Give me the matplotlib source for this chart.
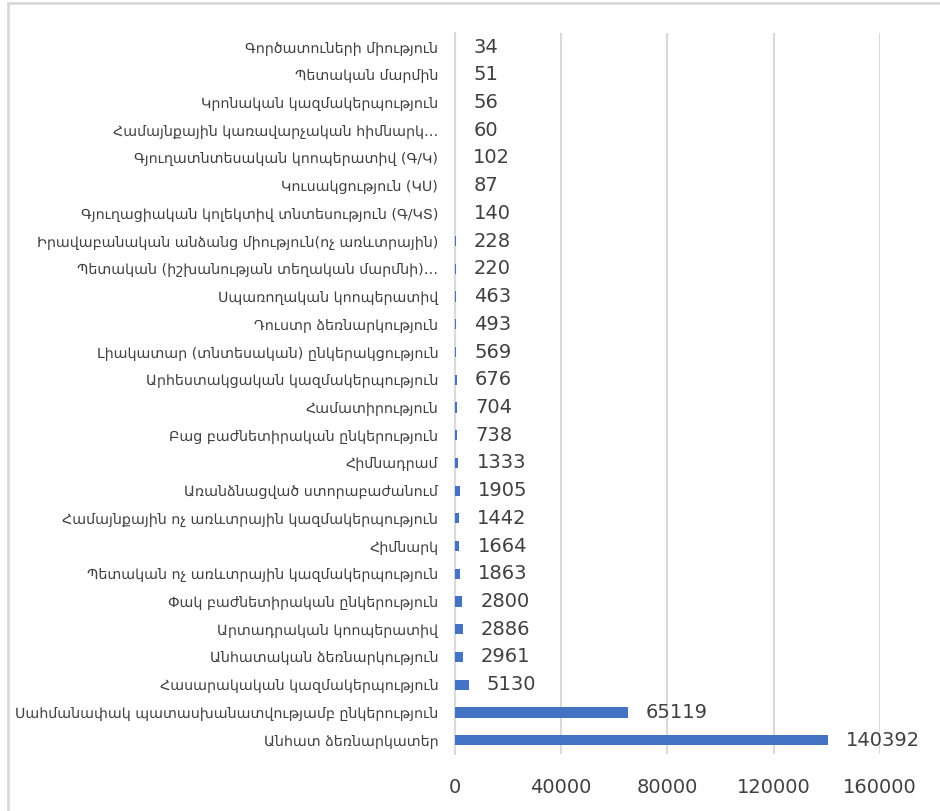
import matplotlib
matplotlib.use("Agg")
import matplotlib.pyplot as plt
from matplotlib.lines import Line2D

# categories from top to bottom, as they appear in the chart
categories = [
    "Գործատուների միություն",
    "Պետական մարմին",
    "Կրոնական կազմակերպություն",
    "Համայնքային կառավարչական հիմնարկ…",
    "Գյուղատնտեսական կոոպերատիվ (Գ/Կ)",
    "Կուսակցություն (ԿՍ)",
    "Գյուղացիական կոլեկտիվ տնտեսություն (Գ/ԿՏ)",
    "Իրավաբանական անձանց միություն(ոչ առևտրային)",
    "Պետական (իշխանության տեղական մարմնի)…",
    "Սպառողական կոոպերատիվ",
    "Դուստր ձեռնարկություն",
    "Լիակատար (տնտեսական) ընկերակցություն",
    "Արհեստակցական կազմակերպություն",
    "Համատիրություն",
    "Բաց բաժնետիրական ընկերություն",
    "Հիմնադրամ",
    "Առանձնացված ստորաբաժանում",
    "Համայնքային ոչ առևտրային կազմակերպություն",
    "Հիմնարկ",
    "Պետական ոչ առևտրային կազմակերպություն",
    "Փակ բաժնետիրական ընկերություն",
    "Արտադրական կոոպերատիվ",
    "Անհատական ձեռնարկություն",
    "Հասարակական կազմակերպություն",
    "Սահմանափակ պատասխանատվությամբ ընկերություն",
    "Անհատ ձեռնարկատեր",
]
counts = [34, 51, 56, 60, 102, 87, 140, 228, 220, 463, 493, 569, 676, 704,
          738, 1333, 1905, 1442, 1664, 1863, 2800, 2886, 2961, 5130, 65119, 140392]
xticks = [0, 40000, 80000, 120000, 160000]

fig = plt.figure(figsize=(9.4, 8.11), dpi=100)
ax = fig.add_axes([0.484, 0.0703, 0.452, 0.8887])

ypos = list(range(len(categories)))
bars = ax.barh(ypos, counts, height=0.37, color="#4472C4", zorder=3)

ax.set_ylim(len(categories) - 0.5, -0.5)
ax.set_xlim(0, 160000)
ax.set_yticks(ypos)
ax.set_yticklabels(categories, fontsize=10.3, color="#404040")
ax.set_xticks(xticks)
ax.set_xticklabels([str(t) for t in xticks], fontsize=14, color="#404040")
ax.tick_params(axis="y", length=0, pad=12)
ax.tick_params(axis="x", length=0, pad=17)

ax.grid(axis="x", color="#d9d9d9", linewidth=1.5, zorder=0)
for side in ["top", "right", "bottom"]:
    ax.spines[side].set_visible(False)
ax.spines["left"].set_color("#d9d9d9")
ax.spines["left"].set_linewidth(1.5)

ax.bar_label(bars, labels=[str(c) for c in counts], padding=13,
             fontsize=14, color="#404040")

# light frame of the chart area (left and top edge)
fig.add_artist(Line2D([0.008, 0.008], [0, 0.996], transform=fig.transFigure,
                      color="#d9d9d9", linewidth=2))
fig.add_artist(Line2D([0.008, 1], [0.996, 0.996], transform=fig.transFigure,
                      color="#d9d9d9", linewidth=2))

fig.savefig("out.png", dpi=100)
